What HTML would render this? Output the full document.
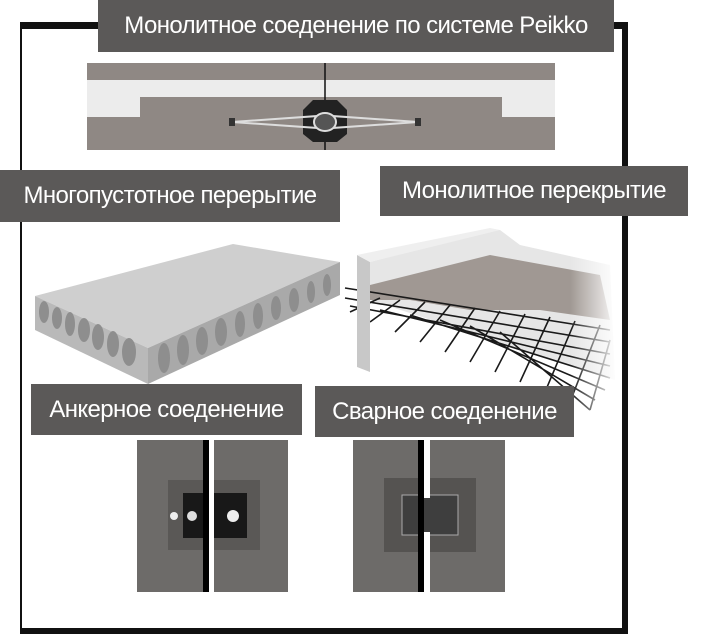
<!DOCTYPE html>
<html><head><meta charset="utf-8"><style>
html,body{margin:0;padding:0;background:#fff;}
body{width:710px;height:637px;position:relative;overflow:hidden;font-family:"Liberation Sans","DejaVu Sans",sans-serif;}
.lb{position:absolute;background:#5b5958;color:#fff;font-size:24px;display:flex;align-items:center;justify-content:center;white-space:nowrap;letter-spacing:-0.6px;}
svg{position:absolute;left:0;top:0;}
</style></head><body>
<svg width="710" height="637" viewBox="0 0 710 637">
<defs>
<linearGradient id="fade" x1="0" x2="1"><stop offset="0.5" stop-color="#fff" stop-opacity="0"/><stop offset="1" stop-color="#fff" stop-opacity="1"/></linearGradient>
</defs>
<rect x="20" y="22" width="2" height="612" fill="#111"/>
<rect x="20" y="22" width="608" height="7" fill="#111"/>
<rect x="622" y="22" width="6" height="612" fill="#111"/>
<rect x="20" y="628" width="608" height="6" fill="#111"/>
<rect x="87" y="63" width="468" height="87" fill="#8f8884"/>
<rect x="87" y="80" width="468" height="17" fill="#ececec"/>
<rect x="87" y="97" width="53" height="20" fill="#ececec"/>
<rect x="502" y="97" width="53" height="20" fill="#ececec"/>
<line x1="325" y1="63" x2="325" y2="150" stroke="#111" stroke-width="1.5"/>
<polygon points="303,110 313,100 337,100 347,110 347,134 337,142 313,142 303,134" fill="#222"/>
<polygon points="232,122 318,116 318,128" fill="none" stroke="#ddd" stroke-width="2"/>
<polygon points="418,122 332,116 332,128" fill="none" stroke="#ddd" stroke-width="2"/>
<rect x="229" y="118" width="6" height="8" fill="#333"/>
<rect x="415" y="118" width="6" height="8" fill="#333"/>
<ellipse cx="325" cy="122" rx="11" ry="9" fill="#555" stroke="#ddd" stroke-width="2"/>
<polygon points="35,296 233,244 340,262 148,348" fill="#cfcfcf"/>
<polygon points="35,296 148,348 148,384 35,330" fill="#b9b9b9"/>
<polygon points="148,348 340,262 340,295 148,384" fill="#a9a9a9"/>
<g fill="#8e8e8e">
<ellipse cx="44" cy="312" rx="5" ry="11"/><ellipse cx="57" cy="318" rx="5" ry="11"/><ellipse cx="70" cy="324" rx="5" ry="12"/><ellipse cx="84" cy="330" rx="6" ry="12"/><ellipse cx="98" cy="337" rx="6" ry="13"/><ellipse cx="113" cy="344" rx="6" ry="13"/><ellipse cx="129" cy="352" rx="7" ry="14"/>
<ellipse cx="164" cy="358" rx="6" ry="15"/><ellipse cx="183" cy="350" rx="6" ry="15"/><ellipse cx="202" cy="341" rx="6" ry="14"/><ellipse cx="221" cy="332" rx="6" ry="14"/><ellipse cx="240" cy="324" rx="5" ry="13"/><ellipse cx="258" cy="316" rx="5" ry="13"/><ellipse cx="276" cy="308" rx="5" ry="12"/><ellipse cx="294" cy="300" rx="5" ry="12"/><ellipse cx="311" cy="292" rx="4" ry="11"/><ellipse cx="327" cy="285" rx="4" ry="11"/>
</g>
<polygon points="370,262 490,230 500,230 520,245 610,265 615,380 370,300" fill="#e6e6e6"/>
<polygon points="370,285 490,255 600,275 610,320 540,310 470,310 410,300 370,300" fill="#a09893"/>
<g stroke="#1a1a1a" stroke-width="1.6" fill="none">
<path d="M345,288 L610,330 M345,298 L610,342 M350,306 L610,354 M380,310 L610,366 M410,315 L610,378 M440,320 L605,390 M470,326 L595,400 M500,332 L590,410"/>
<path d="M380,298 L350,312 M400,300 L370,322 M425,302 L395,332 M450,305 L420,342 M475,308 L445,352 M500,311 L470,362 M525,314 L495,372 M550,317 L520,382 M575,321 L545,392 M600,325 L570,402 M610,340 L590,410"/>
</g>
<polygon points="357,255 370,262 370,372 357,367" fill="#c8c8c8"/>
<polygon points="357,255 490,228 500,230 370,262" fill="#efefef"/>
<rect x="520" y="225" width="100" height="200" fill="url(#fade)"/>
<rect x="137" y="440" width="151" height="152" fill="#6d6b69"/>
<rect x="168" y="480" width="92" height="70" fill="#5a5856"/>
<rect x="183" y="493" width="64" height="45" fill="#181818"/>
<rect x="203" y="440" width="6" height="152" fill="#000"/>
<rect x="209" y="440" width="5" height="152" fill="#fff"/>
<circle cx="174" cy="516" r="4" fill="#eee"/><circle cx="192" cy="516" r="5" fill="#ddd"/><circle cx="233" cy="516" r="6" fill="#eee"/>
<rect x="353" y="440" width="152" height="152" fill="#6d6b69"/>
<rect x="384" y="478" width="92" height="74" fill="#555351"/>
<rect x="402" y="495" width="56" height="40" fill="#3e3e3e" stroke="#aaa" stroke-width="1"/>
<rect x="418" y="440" width="6" height="152" fill="#000"/>
<rect x="424" y="440" width="6" height="152" fill="#fff"/>
<rect x="424" y="498" width="6" height="34" fill="#3e3e3e"/>
</svg>
<div class="lb" style="left:98px;top:0;width:516px;height:52px;">Монолитное соеденение по системе Peikko</div>
<div class="lb" style="left:0;top:170px;width:340px;height:52px;">Многопустотное перерытие</div>
<div class="lb" style="left:380px;top:166px;width:308px;height:50px;">Монолитное перекрытие</div>
<div class="lb" style="left:31px;top:384px;width:271px;height:51px;">Анкерное соеденение</div>
<div class="lb" style="left:315px;top:386px;width:259px;height:51px;">Сварное соеденение</div>
</body></html>
